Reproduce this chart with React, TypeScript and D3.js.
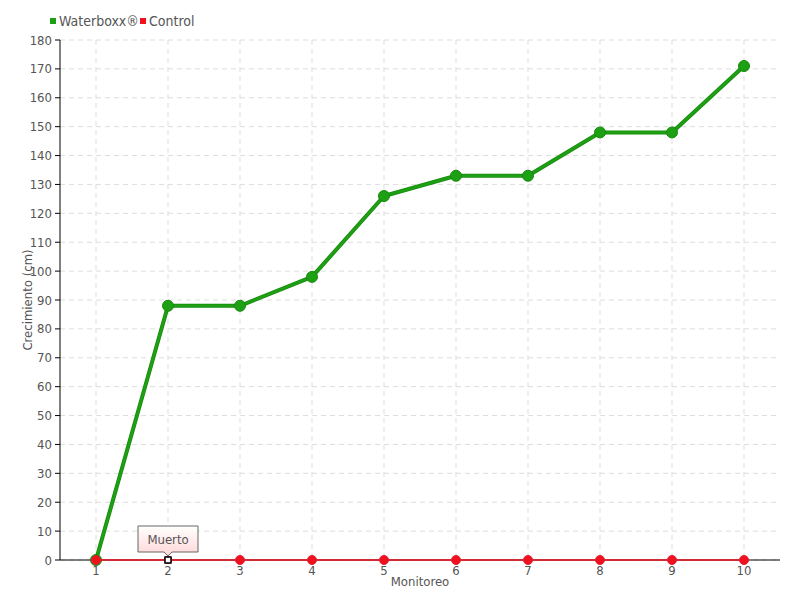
import React from "react";
import * as d3 from "d3";

const categories = ["1", "2", "3", "4", "5", "6", "7", "8", "9", "10"];
const waterboxx = [0, 88, 88, 98, 126, 133, 133, 148, 148, 171];
const control = [0, 0, 0, 0, 0, 0, 0, 0, 0, 0];
const yTicks = d3.range(0, 181, 10);
const deadIndex = 1;
const deadLabel = "Muerto";

const W = 800, H = 600;
const M = { left: 60, right: 20, top: 40, bottom: 40 };
const FONT = "'DejaVu Sans Condensed', 'DejaVu Sans', sans-serif";
const GREEN = "#1ea014";
const GREEN_DARK = "#168a0c";
const RED = "#f0101e";

export default function App() {
  const x = d3.scaleBand<string>().domain(categories).range([M.left, W - M.right]);
  const y = d3.scaleLinear().domain([0, 180]).range([H - M.bottom, M.top]);
  const cx = (i: number) => (x(categories[i]) as number) + x.bandwidth() / 2;
  const line = d3.line<number>().x((_, i) => cx(i)).y((d) => y(d));
  const x0 = M.left, x1 = W - M.right, y0 = y(0);
  const dx = cx(deadIndex), dy = y(control[deadIndex]);
  return (
    <svg width={W} height={H} style={{ position: "absolute", left: 0, top: 0 }} fontFamily={FONT}>
      <defs>
        <linearGradient id="tip" x1="0" y1="0" x2="0" y2="1">
          <stop offset="0" stopColor="#ffffff" />
          <stop offset="1" stopColor="#ffd6d6" />
        </linearGradient>
      </defs>
      {yTicks.map((t) => (
        <line key={"h" + t} x1={x0} x2={x1} y1={y(t)} y2={y(t)} stroke="#dddddd" strokeDasharray="5,4" />
      ))}
      {categories.map((c, i) => (
        <line key={"v" + c} x1={cx(i)} x2={cx(i)} y1={M.top} y2={y0} stroke="#dddddd" strokeDasharray="5,4" />
      ))}
      <line x1={x0} x2={x0} y1={M.top} y2={y0} stroke="#000" />
      <line x1={x0} x2={x1} y1={y0} y2={y0} stroke="#000" />
      {yTicks.map((t) => (
        <g key={"t" + t}>
          <line x1={x0 - 5} x2={x0} y1={y(t)} y2={y(t)} stroke="#000" />
          <text x={x0 - 8} y={y(t)} dy="0.35em" textAnchor="end" fontSize={13} fill="#555">{t}</text>
        </g>
      ))}
      {categories.map((c, i) => (
        <text key={"xl" + c} x={cx(i)} y={y0 + 15} textAnchor="middle" fontSize={13} fill="#555">{c}</text>
      ))}
      <text x={(x0 + x1) / 2} y={586} textAnchor="middle" fontSize={13} fill="#555">Monitoreo</text>
      <text transform={`translate(32,${(M.top + y0) / 2}) rotate(-90)`} textAnchor="middle" fontSize={13} fill="#555">Crecimiento (cm)</text>

      <path d={line(waterboxx) as string} fill="none" stroke={GREEN_DARK} strokeWidth={4} strokeLinejoin="round" />
      <path d={line(waterboxx) as string} fill="none" stroke={GREEN} strokeWidth={2.5} strokeLinejoin="round" />
      {waterboxx.map((v, i) => (
        <circle key={"g" + i} cx={cx(i)} cy={y(v)} r={5.5} fill={GREEN} stroke={GREEN_DARK} strokeWidth={1} />
      ))}
      <path d={line(control) as string} fill="none" stroke={RED} strokeWidth={1.5} />
      {control.map((v, i) =>
        i === deadIndex ? (
          <g key={"r" + i}>
            <circle cx={cx(i)} cy={y(v)} r={4} fill={RED} />
            <rect x={cx(i) - 3} y={y(v) - 3} width={6} height={6} fill="#fff" stroke="#000" strokeWidth={1.5} />
          </g>
        ) : (
          <circle key={"r" + i} cx={cx(i)} cy={y(v)} r={4.5} fill={RED} stroke="#e02030" strokeWidth={1} />
        )
      )}
      <g>
        <path
          d={`M${dx - 30},${dy - 34} H${dx + 30} V${dy - 8} H${dx + 4} L${dx},${dy - 4} L${dx - 4},${dy - 8} H${dx - 30} Z`}
          fill="url(#tip)"
          stroke="#666"
          strokeWidth={1}
        />
        <text x={dx} y={dy - 16} textAnchor="middle" fontSize={13} fill="#555">{deadLabel}</text>
      </g>

      <rect x={50} y={18} width={6} height={6} fill={GREEN} />
      <text x={59} y={26} fontSize={14} fill="#555">Waterboxx®</text>
      <rect x={140} y={18} width={6} height={6} fill={RED} />
      <text x={149} y={26} fontSize={14} fill="#555">Control</text>
    </svg>
  );
}
